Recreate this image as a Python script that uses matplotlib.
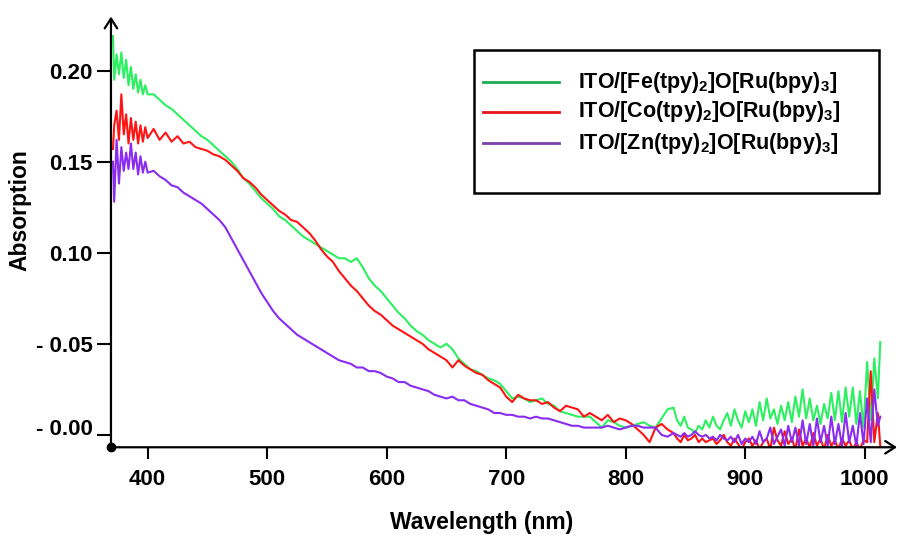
import numpy as np
import matplotlib
matplotlib.use("Agg")
import matplotlib.pyplot as plt
import matplotlib.transforms as mtransforms
from matplotlib.lines import Line2D
from matplotlib.patches import Rectangle

plt.rcParams['font.family'] = ['Liberation Sans', 'DejaVu Sans']
plt.rcParams['font.weight'] = 'bold'
plt.rcParams['mathtext.fontset'] = 'custom'
plt.rcParams['mathtext.rm'] = 'Liberation Sans:bold'
plt.rcParams['mathtext.it'] = 'Liberation Sans:bold'
plt.rcParams['mathtext.bf'] = 'Liberation Sans:bold'

# wavelength grid (nm): fine at the noisy ends, coarser in the middle
wl_start = [371, 372, 374, 376, 378, 380, 382, 384, 386, 388, 390, 392, 394, 396, 398, 400]
wl_mid = list(range(405, 841, 5))
wl_tail = list(range(843, 1012, 3)) + [1013]

# ITO/[Fe(tpy)2]O[Ru(bpy)3]
fe_start = [0.219, 0.195, 0.209, 0.198, 0.210, 0.196, 0.206, 0.192, 0.202, 0.190,
            0.198, 0.188, 0.195, 0.187, 0.192, 0.187]
fe_mid = [0.187, 0.184, 0.181, 0.179, 0.176, 0.173, 0.170, 0.167, 0.164, 0.162,
          0.159, 0.156, 0.153, 0.150, 0.146, 0.141, 0.138, 0.134, 0.130, 0.127,
          0.124, 0.120, 0.118, 0.115, 0.112, 0.109, 0.107, 0.105, 0.103, 0.101,
          0.099, 0.097, 0.097, 0.095, 0.097, 0.092, 0.086, 0.082, 0.079, 0.075,
          0.071, 0.067, 0.064, 0.060, 0.057, 0.055, 0.052, 0.050, 0.048, 0.050,
          0.047, 0.042, 0.039, 0.036, 0.035, 0.033, 0.031, 0.030, 0.028, 0.024,
          0.020, 0.021, 0.020, 0.018, 0.019, 0.020, 0.017, 0.016, 0.013, 0.012,
          0.011, 0.010, 0.010, 0.010, 0.007, 0.004, 0.008, 0.007, 0.005, 0.004,
          0.005, 0.006, 0.007, 0.005, 0.004, 0.009, 0.014, 0.015]
fe_tail = [0.008, 0.005, 0.010, 0.004, 0.003, 0.001, 0.005, 0.003, 0.008, 0.004,
           0.010, 0.005, 0.003, 0.008, 0.012, 0.005, 0.014, 0.008, 0.004, 0.013,
           0.007, 0.014, 0.005, 0.018, 0.008, 0.020, 0.009, 0.014, 0.006, 0.016,
           0.008, 0.018, 0.007, 0.021, 0.010, 0.025, 0.009, 0.020, 0.008, 0.016,
           0.006, 0.017, 0.009, 0.023, 0.008, 0.024, 0.007, 0.026, 0.010, 0.026,
           0.006, 0.024, 0.004, 0.040, 0.008, 0.042, 0.020, 0.051]

# ITO/[Co(tpy)2]O[Ru(bpy)3]
co_start = [0.157, 0.170, 0.178, 0.162, 0.187, 0.165, 0.176, 0.160, 0.174, 0.162,
            0.172, 0.160, 0.170, 0.161, 0.169, 0.163]
co_mid = [0.168, 0.162, 0.166, 0.161, 0.164, 0.160, 0.161, 0.158, 0.157, 0.156,
          0.154, 0.153, 0.151, 0.148, 0.145, 0.141, 0.139, 0.136, 0.132, 0.129,
          0.126, 0.123, 0.121, 0.118, 0.117, 0.114, 0.111, 0.107, 0.102, 0.098,
          0.095, 0.090, 0.086, 0.082, 0.079, 0.075, 0.071, 0.068, 0.066, 0.063,
          0.060, 0.058, 0.056, 0.054, 0.052, 0.050, 0.047, 0.045, 0.043, 0.041,
          0.037, 0.041, 0.038, 0.036, 0.034, 0.033, 0.030, 0.028, 0.026, 0.021,
          0.018, 0.022, 0.020, 0.019, 0.019, 0.017, 0.018, 0.015, 0.013, 0.016,
          0.015, 0.014, 0.010, 0.012, 0.010, 0.008, 0.011, 0.007, 0.009, 0.008,
          0.006, 0.003, 0.000, -0.004, 0.004, 0.006, 0.003, 0.001]
co_tail = [-0.002, -0.004, 0.000, -0.003, -0.002, 0.000, -0.004, -0.002, -0.004, -0.003,
           -0.002, -0.005, -0.003, 0.000, -0.004, -0.006, -0.002, -0.005, -0.008, -0.004,
           -0.002, -0.006, -0.003, -0.008, -0.004, -0.002, -0.008, 0.004, -0.003, -0.006,
           0.002, -0.005, -0.002, -0.008, 0.003, -0.006, -0.002, -0.007, 0.001, -0.006,
           -0.002, -0.008, 0.000, -0.006, -0.003, -0.008, -0.002, -0.006, -0.003, -0.008,
           -0.004, -0.008, -0.003, -0.004, 0.035, -0.004, 0.012, -0.006]

# ITO/[Zn(tpy)2]O[Ru(bpy)3]
zn_start = [0.150, 0.128, 0.162, 0.138, 0.158, 0.145, 0.155, 0.146, 0.160, 0.146,
            0.155, 0.143, 0.153, 0.144, 0.150, 0.144]
zn_mid = [0.145, 0.142, 0.140, 0.137, 0.136, 0.133, 0.131, 0.129, 0.127, 0.124,
          0.121, 0.118, 0.114, 0.108, 0.102, 0.096, 0.090, 0.084, 0.078, 0.073,
          0.068, 0.064, 0.061, 0.058, 0.055, 0.053, 0.051, 0.049, 0.047, 0.045,
          0.043, 0.041, 0.040, 0.039, 0.037, 0.037, 0.035, 0.035, 0.034, 0.032,
          0.031, 0.029, 0.029, 0.027, 0.026, 0.025, 0.024, 0.022, 0.021, 0.020,
          0.021, 0.019, 0.019, 0.017, 0.016, 0.015, 0.014, 0.012, 0.012, 0.011,
          0.011, 0.010, 0.010, 0.009, 0.010, 0.009, 0.009, 0.008, 0.007, 0.006,
          0.005, 0.005, 0.004, 0.004, 0.004, 0.004, 0.005, 0.004, 0.003, 0.004,
          0.005, 0.005, 0.004, 0.004, 0.004, 0.000, -0.001, 0.001]
zn_tail = [0.000, -0.001, 0.001, -0.001, 0.000, 0.002, 0.000, -0.001, 0.000, -0.002,
           -0.001, -0.003, 0.000, -0.002, -0.003, -0.001, -0.004, 0.000, -0.005, -0.002,
           -0.004, -0.001, -0.005, 0.002, -0.004, -0.002, 0.004, -0.005, -0.001, 0.003,
           -0.006, 0.005, -0.004, 0.004, -0.006, 0.008, -0.005, 0.006, -0.006, 0.009,
           -0.004, 0.005, -0.006, 0.010, -0.005, 0.006, -0.006, 0.012, -0.004, 0.005,
           -0.006, 0.012, -0.005, 0.020, -0.004, 0.025, 0.005, 0.010]

labels = [r'ITO/[Fe(tpy)$_2$]O[Ru(bpy)$_3$]',
          r'ITO/[Co(tpy)$_2$]O[Ru(bpy)$_3$]',
          r'ITO/[Zn(tpy)$_2$]O[Ru(bpy)$_3$]']
line_colors = ['#2cf060', '#ff1414', '#8a2cf0']
legend_colors = ['#1aae50', '#e8141c', '#7a40a8']

wavelength = wl_start + wl_mid + wl_tail
series = [fe_start + fe_mid + fe_tail,
          co_start + co_mid + co_tail,
          zn_start + zn_mid + zn_tail]

fig = plt.figure(figsize=(8.97, 5.35), dpi=100)
ax = fig.add_axes([0.1237, 0.164, 0.8763, 0.805])

for vals, col in zip(series, line_colors):
    ax.plot(wavelength, vals, color=col, linewidth=1.5)

ax.set_xlim(369.3, 1027)
ax.set_ylim(-0.0068, 0.2297)

for side in ['top', 'right', 'left', 'bottom']:
    ax.spines[side].set_visible(False)

# axes drawn as arrows
arrow = dict(arrowstyle='->,head_length=0.7,head_width=0.45', lw=1.6, color='black',
             shrinkA=0, shrinkB=0)
ax.annotate('', xy=(0, 1), xytext=(0, 0), xycoords='axes fraction', arrowprops=arrow)
ax.annotate('', xy=(1, 0), xytext=(0, 0), xycoords='axes fraction', arrowprops=arrow)
ax.plot([369.3], [-0.0068], 'o', color='black', markersize=6, clip_on=False, zorder=5)

ax.set_xticks([400, 500, 600, 700, 800, 900, 1000])
ax.set_xticklabels(['400', '500', '600', '700', '800', '900', '1000'])
ax.set_yticks([0.0, 0.05, 0.10, 0.15, 0.20])
ax.set_yticklabels(['- 0.00', '- 0.05', '0.10', '0.15', '0.20'])
ax.tick_params(axis='x', direction='out', length=8.5, width=1.5, pad=7, labelsize=16)
ax.tick_params(axis='y', direction='out', length=10, width=1.5, pad=3, labelsize=16)

# the "- 0.00" label sits a little above its tick
zero_lab = ax.get_yticklabels()[0]
zero_lab.set_transform(zero_lab.get_transform() +
                       mtransforms.ScaledTranslation(0, 6 / 72, fig.dpi_scale_trans))

fig.text(0.022, 0.607, 'Absorption', rotation=90, ha='center', va='center',
         fontsize=16.5, fontweight='bold')
fig.text(0.537, 0.024, 'Wavelength (nm)', ha='center', va='center',
         fontsize=16.5, fontweight='bold')

# legend box
fig.add_artist(Rectangle((0.528, 0.639), 0.452, 0.2675, transform=fig.transFigure,
                         fill=False, edgecolor='black', linewidth=1.8))
row_y = [0.8467, 0.7907, 0.7327]
for lab, col, yy in zip(labels, legend_colors, row_y):
    fig.add_artist(Line2D([0.538, 0.623], [yy, yy], transform=fig.transFigure,
                          color=col, linewidth=2))
    fig.text(0.644, yy, lab, ha='left', va='center', fontsize=15.5, fontweight='bold')

fig.savefig('out.png', dpi=100)
